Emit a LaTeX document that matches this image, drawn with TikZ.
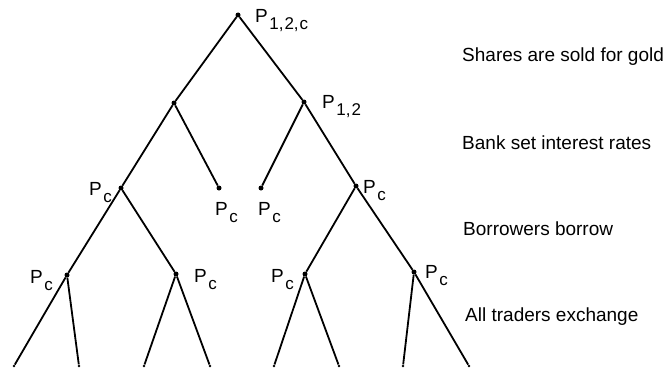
\documentclass[tikz,border=0pt]{standalone}
\usepackage{fontspec}
\setmainfont{Liberation Sans}
\usepackage{tikz}
\usetikzlibrary{positioning, calc}

\newcommand{\psub}[1]{P\kern1.5pt\raisebox{-7pt}{\fontsize{17}{17}\selectfont #1}}

\tikzset{
  dot/.style={circle, fill=black, inner sep=0pt, minimum size=5pt},
  tip/.style={circle, fill=black, inner sep=0pt, minimum size=2.8pt},
  branch/.style={line width=1.8pt},
  plabel/.style={anchor=base west, inner sep=0pt, font=\fontsize{19}{19}\selectfont},
  stage/.style={anchor=base west, inner sep=0pt, font=\fontsize{19}{19}\selectfont}
}

\begin{document}
\begin{tikzpicture}[x=1pt, y=-1pt]
  \useasboundingbox (0,0) rectangle (666,369);

  % decision points
  \node[dot] (sold) at (238,15) {};
  \node[dot] (bankL) at (174,103) {};
  \node[dot] (bankR) at (304,102) {};
  \node[dot] (borL) at (121,188) {};
  \node[dot] (leafL) at (219,188) {};
  \node[dot] (leafR) at (261,188) {};
  \node[dot] (borR) at (356,186) {};
  \node[dot] (exLL) at (67,275) {};
  \node[dot] (exLR) at (176,274) {};
  \node[dot] (exRL) at (305,274) {};
  \node[dot] (exRR) at (414,272) {};
  \node[tip] (t1) at (14,366) {};
  \node[tip] (t2) at (79,366) {};
  \node[tip] (t3) at (144,366) {};
  \node[tip] (t4) at (210,366) {};
  \node[tip] (t5) at (274,366) {};
  \node[tip] (t6) at (339,366) {};
  \node[tip] (t7) at (403,366) {};
  \node[tip] (t8) at (469,366) {};

  % branches
  \foreach \a/\b in {sold/bankL, sold/bankR, bankL/borL, bankL/leafL, bankR/leafR, bankR/borR,
      borL/exLL, borL/exLR, borR/exRL, borR/exRR, exLL/t1, exLL/t2, exLR/t3, exLR/t4,
      exRL/t5, exRL/t6, exRR/t7, exRR/t8}
    \draw[branch] (\a) -- (\b);

  % information sets
  \node[plabel] (lsold) at (255,23) {\psub{1,\kern1pt2,\kern1pt c}};
  \node[plabel] (lbank) at (322,108) {\psub{1,\kern1pt2}};
  \node[plabel] (lborL) at (89,195) {\psub{c}};
  \node[plabel] (lleafL) at (215,215) {\psub{c}};
  \node[plabel] (lleafR) at (258,215) {\psub{c}};
  \node[plabel] (lborR) at (363,193) {\psub{c}};
  \node[plabel] (lexLL) at (30,283) {\psub{c}};
  \node[plabel] (lexLR) at (194,282) {\psub{c}};
  \node[plabel] (lexRL) at (271,282) {\psub{c}};
  \node[plabel] (lexRR) at (425,278) {\psub{c}};

  % stages
  \node[stage] (s1) at (462,62) {Shares are sold for gold};
  \node[stage] (s2) at (462,149) {Bank set interest rates};
  \node[stage] (s3) at (463,235) {Borrowers borrow};
  \node[stage] (s4) at (465,321) {All traders exchange};
\end{tikzpicture}
\end{document}
